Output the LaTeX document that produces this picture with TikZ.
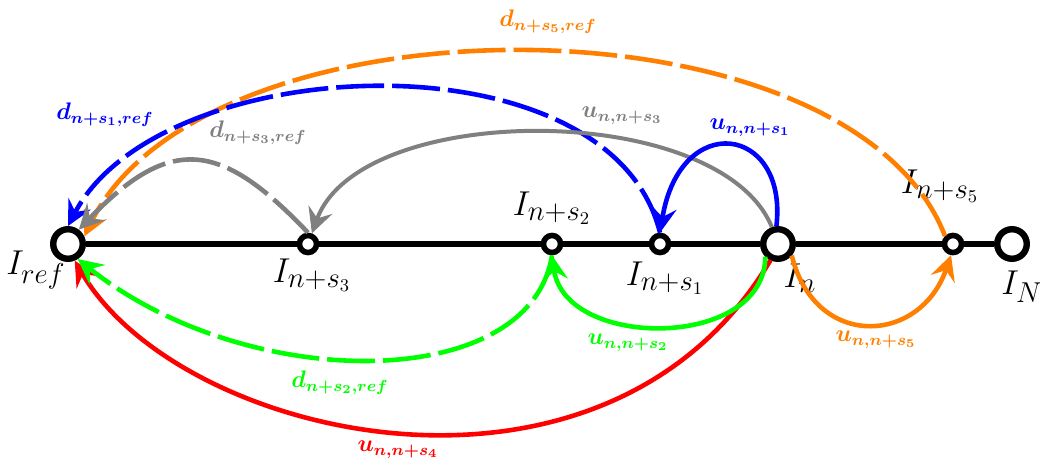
\documentclass[tikz,border=0pt]{standalone}
\usepackage{amsmath,bm}
\usetikzlibrary{arrows.meta}
\definecolor{PathOrange}{RGB}{255,128,0}
\definecolor{PathGreen}{RGB}{0,255,0}

\begin{document}
\begin{tikzpicture}[
    x=0.0176cm,y=-0.0176cm,
    frame/.style={draw,circle,line width=3.2pt,fill=white,minimum size=0.52cm,inner sep=0pt},
    subframe/.style={draw,circle,line width=2.8pt,fill=white,minimum size=0.3cm,inner sep=0pt},
    fname/.style={font=\fontsize{19}{22}\selectfont},
    link/.style={line width=2.3pt,-{Stealth[length=4.4mm,width=4.4mm,inset=1.6mm]}},
    gap/.style={link,dash pattern=on 24pt off 4pt},
    tag/.style={font=\large}
  ]
  \useasboundingbox (0,0) rectangle (1040,466);

  % frames on the sequence
  \node[frame] (ref) at (68,244) {};
  \node[subframe] (s3) at (308,244) {};
  \node[subframe] (s2) at (552,244) {};
  \node[subframe] (s1) at (660,244) {};
  \node[frame] (n) at (778,244) {};
  \node[subframe] (s5) at (953,244) {};
  \node[frame] (N) at (1012,244) {};
  \draw[line width=3pt] (ref) -- (s3) -- (s2) -- (s1) -- (n) -- (s5) -- (N);

  \node[fname] (lref) at (36,270) {$I_{ref}$};
  \node[fname] (ls3) at (312,275) {$I_{n+s_3}$};
  \node[fname] (ls2) at (552,208) {$I_{n+s_2}$};
  \node[fname] (ls1) at (665,278) {$I_{n+s_1}$};
  \node[fname] (ln) at (800,278) {$I_n$};
  \node[fname] (ls5) at (940,186) {$I_{n+s_5}$};
  \node[fname] (lN) at (1022,287) {$I_N$};

  % links above the line
  \draw[gap,PathOrange] (s5.135) .. controls (850,-10) and (204,-10) .. (ref.25);
  \draw[gap,blue] (s1.north) .. controls (610,30) and (160,50) .. (ref.90);
  \draw[gap,gray] (s3.north) .. controls (220,140) and (170,135) .. (ref.53);
  \draw[link,gray,line width=2pt] (n.110) .. controls (720,100) and (360,100) .. (s3.70);
  \draw[link,blue] (n.95) .. controls (788,125) and (680,110) .. (s1.north);

  % links below the line
  \draw[link,red] (n.245) .. controls (605,539) and (180,440) .. (ref.292);
  \draw[gap,PathGreen] (s2.south) .. controls (530,394) and (247,394) .. (ref.303);
  \draw[link,PathGreen] (n.225) .. controls (765,350) and (565,350) .. (s2.south);
  \draw[link,PathOrange] (n.320) .. controls (815,350) and (920,345) .. (s5.260);

  % labels
  \node[tag,PathOrange] (td5) at (548,22) {$\bm{d_{n+s_5,ref}}$};
  \node[tag,blue] (td1) at (105,115) {$\bm{d_{n+s_1,ref}}$};
  \node[tag,gray] (td3) at (258,133) {$\bm{d_{n+s_3,ref}}$};
  \node[tag,gray] (tu3) at (622,116) {$\bm{u_{n,n+s_3}}$};
  \node[tag,blue] (tu1) at (750,128) {$\bm{u_{n,n+s_1}}$};
  \node[tag,PathGreen] (tu2) at (628,343) {$\bm{u_{n,n+s_2}}$};
  \node[tag,PathGreen] (td2) at (340,383) {$\bm{d_{n+s_2,ref}}$};
  \node[tag,red] (tu4) at (398,450) {$\bm{u_{n,n+s_4}}$};
  \node[tag,PathOrange] (tu5) at (876,340) {$\bm{u_{n,n+s_5}}$};
\end{tikzpicture}
\end{document}
